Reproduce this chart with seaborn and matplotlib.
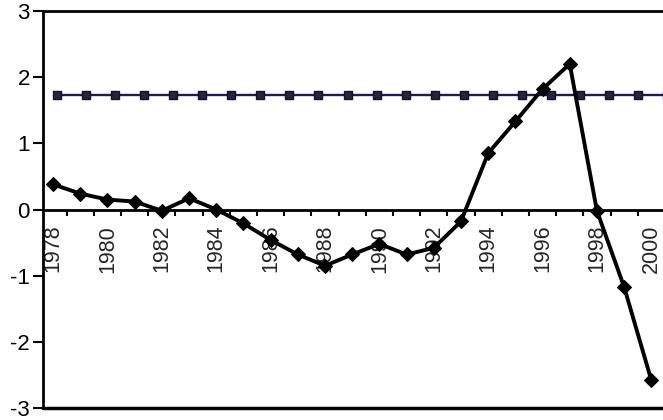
import numpy as np
import matplotlib
matplotlib.use("Agg")
import matplotlib.pyplot as plt
import seaborn as sns

# Annual series, 1978-2000
years = list(range(1978, 2001))
values = [0.38, 0.24, 0.15, 0.12, -0.02, 0.17, 0.00, -0.21, -0.46, -0.68,
          -0.85, -0.68, -0.52, -0.68, -0.58, -0.18, 0.85, 1.33, 1.82, 2.20,
          -0.02, -1.17, -2.58]

# Threshold level plotted on its own category axis
threshold = [1.73, 1.73, 1.73, 1.73, 1.73, 1.73, 1.73, 1.73, 1.73, 1.73, 1.73,
             1.73, 1.73, 1.73, 1.73, 1.73, 1.73, 1.73, 1.73, 1.73, 1.73, 1.73]

y_ticks = [-3, -2, -1, 0, 1, 2, 3]

sns.set_style("white")
plt.rcParams["font.family"] = ["Liberation Sans", "DejaVu Sans"]

W, H = 663, 420
fig = plt.figure(figsize=(W / 100, H / 100), dpi=100)
fig.patch.set_facecolor("white")
ax = fig.add_axes([43 / W, 12 / H, 620 / W, 397 / H])
ax2 = ax.twiny()

# threshold series (secondary category axis)
sns.lineplot(x=np.arange(len(threshold)), y=threshold, ax=ax2,
             color="#1d1d4c", lw=1.7, marker="s", markersize=5.5,
             markerfacecolor="#262636", markeredgecolor="#101030",
             markeredgewidth=1.0)
ax2.set_xlim(-0.482, 20.86)
ax2.set_xticks([])
for s in ax2.spines.values():
    s.set_visible(False)

# main series
sns.lineplot(x=np.arange(len(years)), y=values, ax=ax,
             color="black", lw=2.8, marker="D", markersize=7.5,
             markerfacecolor="black", markeredgecolor="black")

ax.set_zorder(2)
ax.patch.set_visible(False)
ax2.set_zorder(1)

ax.set_xlim(-0.37, 22.43)
ax.set_ylim(-3, 3)

# frame: left and top lines, category axis crossing at zero, bottom line at -3
ax.spines["right"].set_visible(False)
ax.spines["left"].set_linewidth(2)
ax.spines["top"].set_linewidth(2)
ax.spines["bottom"].set_position(("data", 0))
ax.spines["bottom"].set_linewidth(2)
for s in ("left", "top", "bottom"):
    ax.spines[s].set_color("black")
    ax.spines[s].set_visible(True)
ax.axhline(-3, color="black", lw=2.5, clip_on=False, zorder=5)

ax.set_yticks(y_ticks)
ax.set_yticklabels([str(v) for v in y_ticks], fontsize=16)
ax.tick_params(axis="y", direction="out", length=7.5, width=1.5, pad=2,
               left=True, colors="black")

ax.set_xticks(np.arange(0, len(years), 2))
ax.set_xticklabels([str(y) for y in years[::2]], rotation=90, fontsize=15.5)
ax.set_xticks(np.arange(0.5, len(years) - 1, 1), minor=True)
ax.tick_params(axis="x", which="major", length=0, pad=11, bottom=True)
ax.tick_params(axis="x", which="minor", direction="out", length=4,
               width=1.5, bottom=True, color="black")

ax.set_xlabel("")
ax.set_ylabel("")
ax.grid(False)

fig.savefig("out.png", dpi=100, facecolor="white")
